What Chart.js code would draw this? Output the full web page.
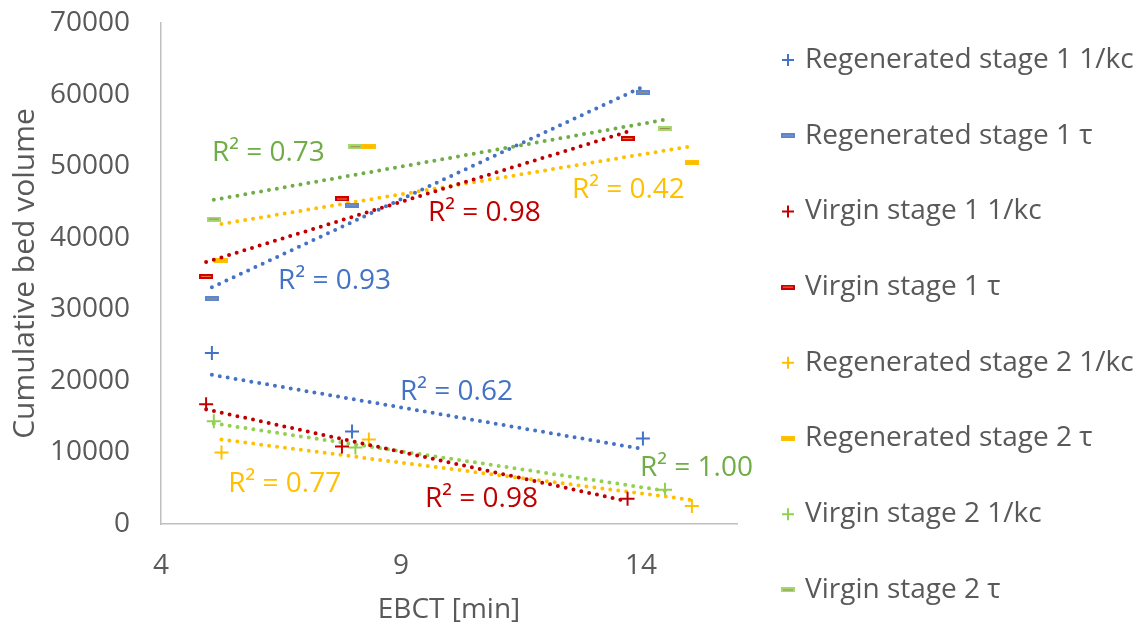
<!DOCTYPE html>
<html>
<head>
<meta charset="utf-8">
<title>EBCT vs cumulative bed volume</title>
<script src="https://cdn.jsdelivr.net/npm/chart.js@4.4.0/dist/chart.umd.min.js"></script>
<style>
    html, body { margin: 0; padding: 0; background: #fff; }
    #wrap { width: 1142px; height: 627px; }
</style>
</head>
<body>
<div id="wrap"><canvas id="chart"></canvas></div>
<script>
// EBCT [min] per series
const ebctRegen1 = [5.06, 7.98, 14.04];
const ebctVirgin1 = [4.94, 7.77, 13.72];
const ebctRegen2 = [5.26, 8.33, 15.06];
const ebctVirgin2 = [5.10, 8.05, 14.50];

// cumulative bed volume
const regen1Kc = [23900, 12930, 11950];
const regen1Tau = [31450, 44570, 60320];
const virgin1Kc = [16730, 10830, 3515];
const virgin1Tau = [34590, 45410, 53850];
const regen2Kc = [9980, 11810, 2530];
const regen2Tau = [36840, 52720, 50480];
const virgin2Kc = [14340, 10690, 4780];
const virgin2Tau = [42600, 52720, 55260];

const seriesNames = [
    'Regenerated stage 1 1/kc',
    'Regenerated stage 1 τ',
    'Virgin stage 1 1/kc',
    'Virgin stage 1 τ',
    'Regenerated stage 2 1/kc',
    'Regenerated stage 2 τ',
    'Virgin stage 2 1/kc',
    'Virgin stage 2 τ',
];

// R² labels, anchored (left, middle) in data units
const r2Texts = ['R² = 0.62', 'R² = 0.93', 'R² = 0.98', 'R² = 0.98', 'R² = 0.77', 'R² = 0.42', 'R² = 1.00', 'R² = 0.73'];
const r2X = [8.98, 6.44, 9.50, 9.56, 5.40, 12.56, 13.98, 5.06];
const r2Y = [18420, 33880, 3515, 43450, 5620, 46680, 7870, 51880];
const r2Colors = ['#4472C4', '#4472C4', '#C00000', '#C00000', '#FFC000', '#FFC000', '#70AD47', '#70AD47'];

const xTicks = [4, 9, 14];

const FONT = "'Open Sans', 'Noto Sans', sans-serif";
const TEXT = '#595959';

/**
 * Small dash marker, outline colour with a thin line inside
 */
function dashMarker(outer, inner) {
    const c = document.createElement('canvas');
    c.width = 14;
    c.height = 5;
    const g = c.getContext('2d');
    g.fillStyle = outer;
    g.fillRect(0, 0, 14, 5);
    g.fillStyle = inner;
    g.fillRect(2, 2, 10, 1);
    return c;
}

function toPoints(xs, ys) {
    return xs.map((x, i) => ({ x: x, y: ys[i] }));
}

/**
 * Linear least squares trendline between min and max x
 */
function trend(xs, ys) {
    const n = xs.length;
    const mx = xs.reduce((a, b) => a + b, 0) / n;
    const my = ys.reduce((a, b) => a + b, 0) / n;
    let sxy = 0;
    let sxx = 0;
    xs.forEach((x, i) => {
        sxy += (x - mx) * (ys[i] - my);
        sxx += (x - mx) * (x - mx);
    });
    const slope = sxy / sxx;
    const x0 = Math.min(...xs);
    const x1 = Math.max(...xs);
    return [
        { x: x0, y: my + slope * (x0 - mx) },
        { x: x1, y: my + slope * (x1 - mx) },
    ];
}

const series = [
    { xs: ebctRegen1, ys: regen1Kc, color: '#4472C4', trendColor: '#4472C4', style: 'cross' },
    { xs: ebctRegen1, ys: regen1Tau, color: '#4472C4', trendColor: '#4472C4', style: dashMarker('#5A86D2', '#9C8F80') },
    { xs: ebctVirgin1, ys: virgin1Kc, color: '#C00000', trendColor: '#C00000', style: 'cross' },
    { xs: ebctVirgin1, ys: virgin1Tau, color: '#C00000', trendColor: '#C00000', style: dashMarker('#D00000', '#ED7D31') },
    { xs: ebctRegen2, ys: regen2Kc, color: '#FFC000', trendColor: '#FFC000', style: 'cross' },
    { xs: ebctRegen2, ys: regen2Tau, color: '#FFC000', trendColor: '#FFC000', style: dashMarker('#FFC000', '#F5B800') },
    { xs: ebctVirgin2, ys: virgin2Kc, color: '#92D050', trendColor: '#92D050', style: 'cross' },
    { xs: ebctVirgin2, ys: virgin2Tau, color: '#92D050', trendColor: '#70AD47', style: dashMarker('#A6D86E', '#9A8E55') },
];

const datasets = [];
series.forEach((s, i) => {
    datasets.push({
        label: seriesNames[i],
        data: toPoints(s.xs, s.ys),
        showLine: false,
        pointStyle: s.style,
        pointRadius: 7,
        borderWidth: 2,
        borderColor: s.color,
        backgroundColor: s.color,
        isSeries: true,
    });
    datasets.push({
        label: `${seriesNames[i]} trend`,
        data: trend(s.xs, s.ys),
        showLine: true,
        pointRadius: 0,
        borderColor: s.trendColor,
        borderWidth: 4,
        borderDash: [0, 8],
        borderCapStyle: 'round',
        fill: false,
    });
});

const r2Plugin = {
    id: 'r2Labels',
    afterDatasetsDraw(chart) {
        const { ctx, scales } = chart;
        ctx.save();
        ctx.font = `28px ${FONT}`;
        ctx.textAlign = 'left';
        ctx.textBaseline = 'middle';
        r2Texts.forEach((t, i) => {
            ctx.fillStyle = r2Colors[i];
            ctx.fillText(t, scales.x.getPixelForValue(r2X[i]), scales.y.getPixelForValue(r2Y[i]));
        });
        ctx.restore();
    },
};

const legendPlugin = {
    id: 'sideLegend',
    afterDraw(chart) {
        const { ctx } = chart;
        const items = chart.data.datasets.filter((d) => d.isSeries);
        ctx.save();
        ctx.font = `28px ${FONT}`;
        ctx.textAlign = 'left';
        ctx.textBaseline = 'middle';
        items.forEach((d, i) => {
            const y = 60 + i * 75.7;
            ctx.strokeStyle = d.borderColor;
            ctx.fillStyle = d.backgroundColor;
            ctx.lineWidth = 2;
            Chart.helpers.drawPoint(ctx, {
                pointStyle: d.pointStyle,
                radius: 6,
                rotation: 0,
                borderWidth: 2,
            }, 788, y);
            ctx.fillStyle = TEXT;
            ctx.fillText(d.label, 805, y);
        });
        ctx.restore();
    },
};

Chart.defaults.font.family = FONT;
Chart.defaults.font.size = 28;
Chart.defaults.color = TEXT;

new Chart(document.getElementById('chart'), {
    type: 'scatter',
    data: { datasets: datasets },
    options: {
        responsive: true,
        maintainAspectRatio: false,
        animation: false,
        layout: {
            padding: { top: 0, right: 405, bottom: 0, left: 0 },
        },
        plugins: {
            legend: { display: false },
            tooltip: { enabled: false },
        },
        scales: {
            x: {
                type: 'linear',
                min: 4,
                max: 16,
                grid: { display: false, drawTicks: false },
                border: { display: true, color: '#BFBFBF', width: 1.5 },
                ticks: { stepSize: 5, padding: 25, color: TEXT },
                afterBuildTicks(scale) {
                    scale.ticks = xTicks.map((v) => ({ value: v }));
                },
                afterFit(scale) {
                    scale.height = 103;
                },
                title: {
                    display: true,
                    text: 'EBCT [min]',
                    color: TEXT,
                    padding: { top: 0, bottom: 0 },
                },
            },
            y: {
                type: 'linear',
                min: 0,
                max: 70000,
                grid: { display: false, drawTicks: false },
                border: { display: true, color: '#BFBFBF', width: 1.5 },
                ticks: {
                    stepSize: 10000,
                    padding: 31,
                    color: TEXT,
                    callback: (value) => String(value),
                },
                afterFit(scale) {
                    scale.width = 161;
                    // tick padding is horizontal here, keep it out of the top space
                    scale.paddingTop = 23;
                    scale.paddingBottom = 0;
                },
                title: {
                    display: true,
                    text: 'Cumulative bed volume',
                    color: TEXT,
                    font: { size: 30 },
                    padding: { top: 7, bottom: 0 },
                },
            },
        },
    },
    plugins: [r2Plugin, legendPlugin],
});
</script>
</body>
</html>
